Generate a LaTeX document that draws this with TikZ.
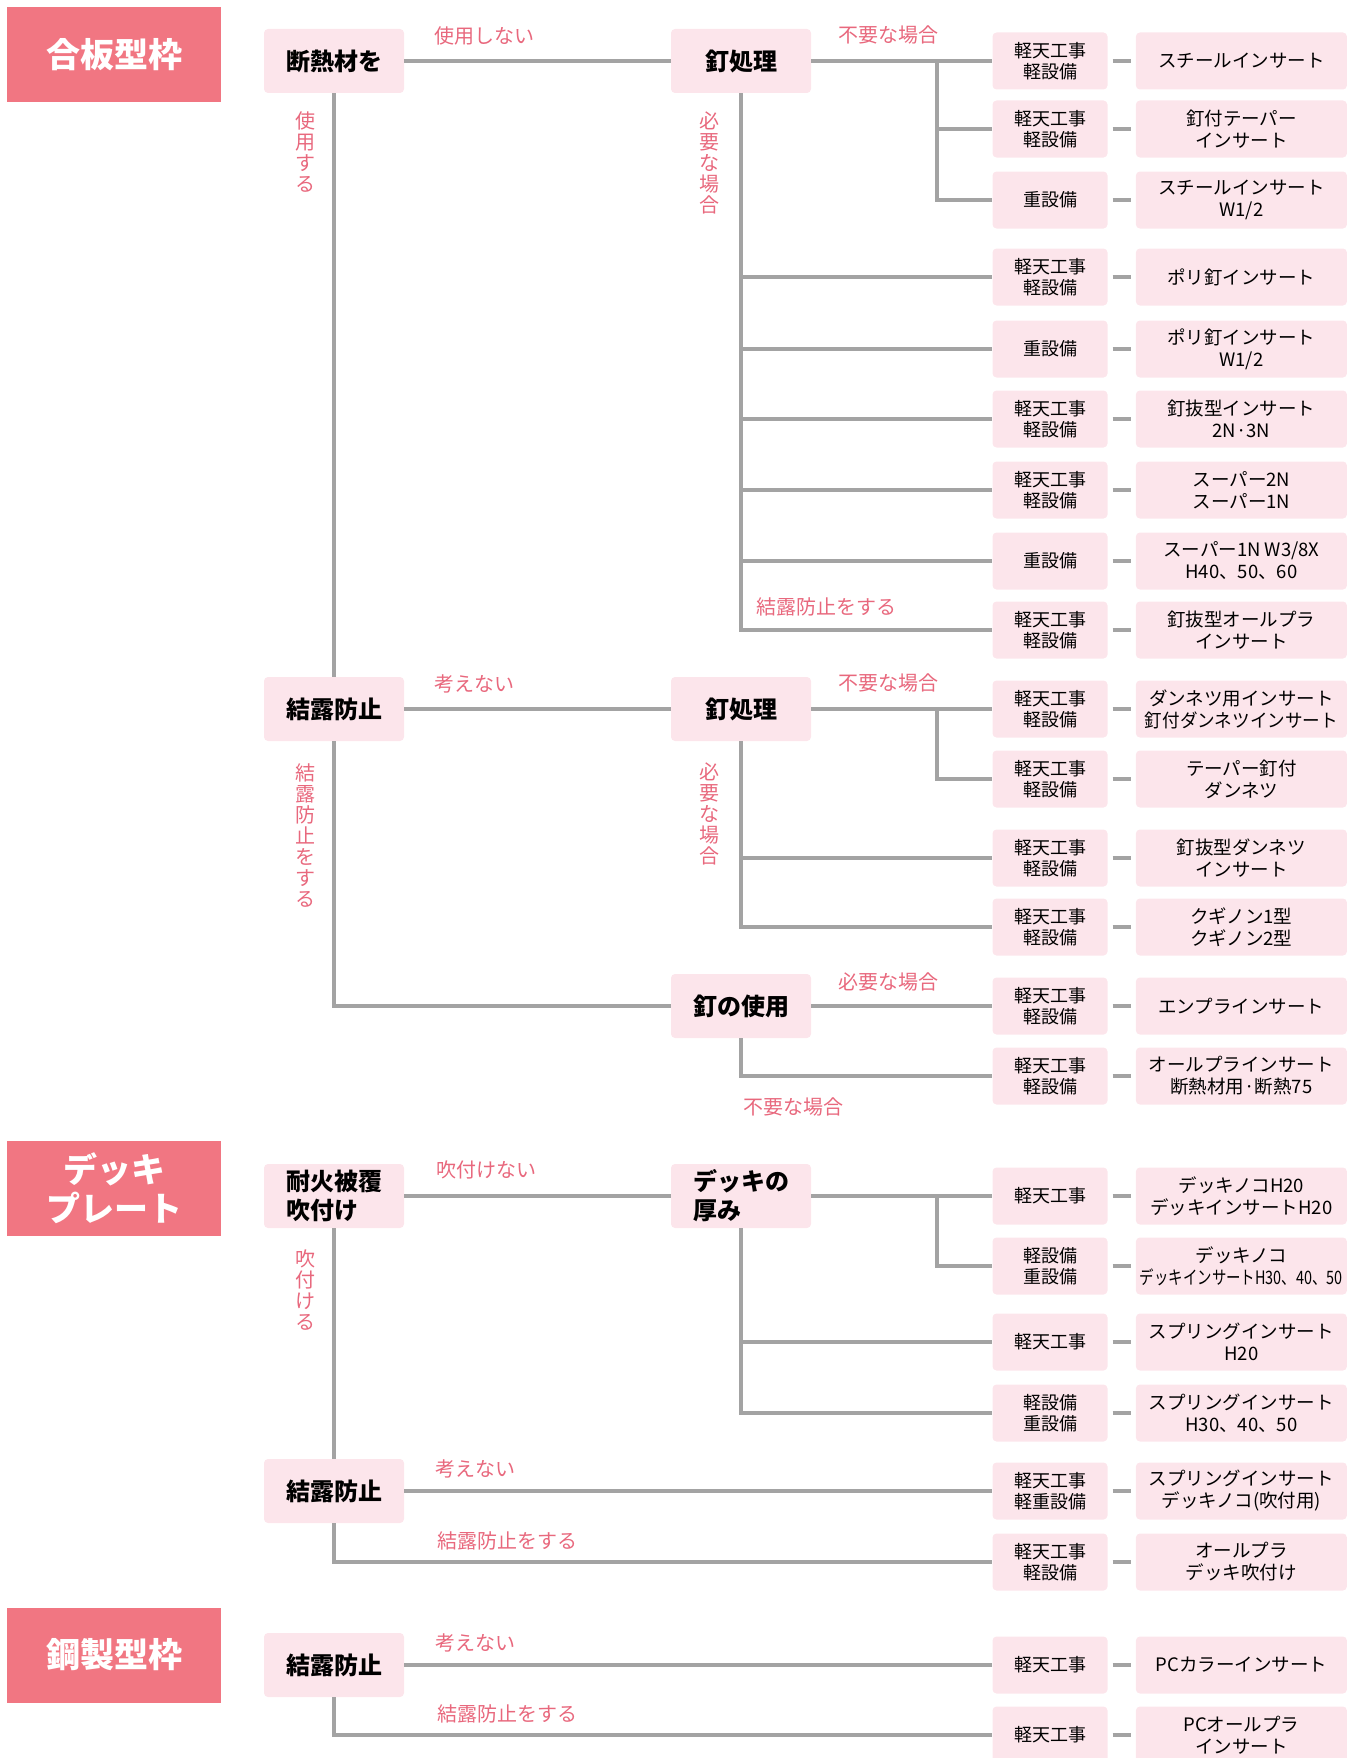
\documentclass[tikz,border=0pt]{standalone}
\usepackage{fontspec}
\setmainfont{Noto Sans CJK JP}
\usetikzlibrary{positioning}

\definecolor{titlepink}{RGB}{241,118,130}
\definecolor{boxpink}{RGB}{252,229,235}
\definecolor{labelpink}{RGB}{232,104,125}
\definecolor{linegray}{RGB}{163,163,163}

\begin{document}
\begin{tikzpicture}[
    x=1pt, y=-1pt,
    title/.style={fill=titlepink, text=white, align=center, inner sep=0pt,
                  minimum width=214pt, minimum height=95pt,
                  font=\bfseries\fontsize{34}{39}\selectfont},
    cond/.style={fill=boxpink, rounded corners=4pt, align=left, inner sep=0pt,
                 minimum width=140pt, minimum height=64pt,
                 font=\bfseries\fontsize{24}{29}\selectfont},
    work/.style={fill=boxpink, rounded corners=4pt, align=center, inner sep=0pt,
                 minimum width=115pt, minimum height=57pt,
                 font=\fontsize{18}{21.5}\selectfont},
    item/.style={work, minimum width=211pt, font=\fontsize{18.5}{22}\selectfont},
    lbl/.style={text=labelpink, inner sep=0pt, align=center,
                font=\fontsize{20}{21}\selectfont},
    link/.style={draw=linegray, line width=3.5pt},
    stub/.style={link, shorten <=5pt, shorten >=5pt},
  ]
  \useasboundingbox (0,0) rectangle (1350,1758);

  % section titles
  \node[title] (t1) at (114,55) {合板型枠};
  \node[title] (t2) at (114,1188) {デッキ\\プレート};
  \node[title] (t3) at (114,1655) {鋼製型枠};

  % conditions, first column
  \node[cond] (d1) at (334,61) {断熱材を};
  \node[cond] (d2) at (334,709) {結露防止};
  \node[cond] (d3) at (334,1196) {耐火被覆\\吹付け};
  \node[cond] (d4) at (334,1491) {結露防止};
  \node[cond] (d5) at (334,1665) {結露防止};
  % conditions, second column
  \node[cond] (n1) at (741,61) {釘処理};
  \node[cond] (n2) at (741,709) {釘処理};
  \node[cond] (n3) at (741,1006) {釘の使用};
  \node[cond] (n4) at (741,1196) {デッキの\\厚み};

  % works and inserts
  \node[work] (w1) at (1050,61) {軽天工事\\軽設備};
  \node[item, right=28pt of w1] (r1) {スチールインサート};
  \node[work] (w2) at (1050,129) {軽天工事\\軽設備};
  \node[item, right=28pt of w2] (r2) {釘付テーパー\\インサート};
  \node[work] (w3) at (1050,200) {重設備};
  \node[item, right=28pt of w3] (r3) {スチールインサート\\W1/2};
  \node[work] (w4) at (1050,277) {軽天工事\\軽設備};
  \node[item, right=28pt of w4] (r4) {ポリ釘インサート};
  \node[work] (w5) at (1050,349) {重設備};
  \node[item, right=28pt of w5] (r5) {ポリ釘インサート\\W1/2};
  \node[work] (w6) at (1050,419) {軽天工事\\軽設備};
  \node[item, right=28pt of w6] (r6) {釘抜型インサート\\2N·3N};
  \node[work] (w7) at (1050,490) {軽天工事\\軽設備};
  \node[item, right=28pt of w7] (r7) {スーパー2N\\スーパー1N};
  \node[work] (w8) at (1050,561) {重設備};
  \node[item, right=28pt of w8] (r8) {スーパー1N W3/8X\\H40、50、60};
  \node[work] (w9) at (1050,630) {軽天工事\\軽設備};
  \node[item, right=28pt of w9] (r9) {釘抜型オールプラ\\インサート};
  \node[work] (w10) at (1050,709) {軽天工事\\軽設備};
  \node[item, right=28pt of w10] (r10) {ダンネツ用インサート\\\scalebox{0.95}[1]{釘付ダンネツインサート}};
  \node[work] (w11) at (1050,779) {軽天工事\\軽設備};
  \node[item, right=28pt of w11] (r11) {テーパー釘付\\ダンネツ};
  \node[work] (w12) at (1050,858) {軽天工事\\軽設備};
  \node[item, right=28pt of w12] (r12) {釘抜型ダンネツ\\インサート};
  \node[work] (w13) at (1050,927) {軽天工事\\軽設備};
  \node[item, right=28pt of w13] (r13) {クギノン1型\\クギノン2型};
  \node[work] (w14) at (1050,1006) {軽天工事\\軽設備};
  \node[item, right=28pt of w14] (r14) {エンプラインサート};
  \node[work] (w15) at (1050,1076) {軽天工事\\軽設備};
  \node[item, right=28pt of w15] (r15) {オールプラインサート\\断熱材用·断熱75};
  \node[work] (w16) at (1050,1196) {軽天工事};
  \node[item, right=28pt of w16] (r16) {デッキノコH20\\デッキインサートH20};
  \node[work] (w17) at (1050,1266) {軽設備\\重設備};
  \node[item, right=28pt of w17] (r17) {デッキノコ\\\scalebox{0.78}[1]{デッキインサートH30、40、50}};
  \node[work] (w18) at (1050,1342) {軽天工事};
  \node[item, right=28pt of w18] (r18) {スプリングインサート\\H20};
  \node[work] (w19) at (1050,1413) {軽設備\\重設備};
  \node[item, right=28pt of w19] (r19) {スプリングインサート\\H30、40、50};
  \node[work] (w20) at (1050,1491) {軽天工事\\軽重設備};
  \node[item, right=28pt of w20] (r20) {スプリングインサート\\デッキノコ(吹付用)};
  \node[work] (w21) at (1050,1562) {軽天工事\\軽設備};
  \node[item, right=28pt of w21] (r21) {オールプラ\\デッキ吹付け};
  \node[work] (w22) at (1050,1665) {軽天工事};
  \node[item, right=28pt of w22] (r22) {PCカラーインサート};
  \node[work] (w23) at (1050,1735) {軽天工事};
  \node[item, right=28pt of w23] (r23) {PCオールプラ\\インサート};

  % branch points
  \coordinate (k1) at (937,61);
  \coordinate (k2) at (937,709);
  \coordinate (k3) at (937,1196);

  % plywood form
  \draw[link] (d1) -- (n1);
  \draw[link] (d1) -- (d2);
  \draw[link] (n1) -- (w1);
  \draw[link] (k1) |- (w2.west);
  \draw[link] (k1) |- (w3.west);
  \draw[link] (n1.south) |- (w9.west);
  \draw[link] (n1.south |- w4.west) -- (w4.west);
  \draw[link] (n1.south |- w5.west) -- (w5.west);
  \draw[link] (n1.south |- w6.west) -- (w6.west);
  \draw[link] (n1.south |- w7.west) -- (w7.west);
  \draw[link] (n1.south |- w8.west) -- (w8.west);
  \draw[link] (d2) -- (n2);
  \draw[link] (n2) -- (w10);
  \draw[link] (k2) |- (w11.west);
  \draw[link] (n2.south) |- (w13.west);
  \draw[link] (n2.south |- w12.west) -- (w12.west);
  \draw[link] (d2.south) |- (n3.west);
  \draw[link] (n3) -- (w14);
  \draw[link] (n3.south) |- (w15.west);
  % deck plate
  \draw[link] (d3) -- (n4);
  \draw[link] (d3) -- (d4);
  \draw[link] (n4) -- (w16);
  \draw[link] (k3) |- (w17.west);
  \draw[link] (n4.south) |- (w19.west);
  \draw[link] (n4.south |- w18.west) -- (w18.west);
  \draw[link] (d4) -- (w20);
  \draw[link] (d4.south) |- (w21.west);
  % steel form
  \draw[link] (d5) -- (w22);
  \draw[link] (d5.south) |- (w23.west);
  % work to insert
  \foreach \i in {1,...,23}
    \draw[stub] (w\i) -- (r\i);

  % branch labels
  \node[lbl] (l1) at (484,36) {使用しない};
  \node[lbl] (l2) at (305,152) {使\\用\\す\\る};
  \node[lbl] (l3) at (888,35) {不要な場合};
  \node[lbl] (l4) at (709,163) {必\\要\\な\\場\\合};
  \node[lbl] (l5) at (826,607) {結露防止をする};
  \node[lbl] (l6) at (474,684) {考えない};
  \node[lbl] (l7) at (305,836) {結\\露\\防\\止\\を\\す\\る};
  \node[lbl] (l8) at (888,683) {不要な場合};
  \node[lbl] (l9) at (709,814) {必\\要\\な\\場\\合};
  \node[lbl] (l10) at (888,982) {必要な場合};
  \node[lbl] (l11) at (793,1107) {不要な場合};
  \node[lbl] (l12) at (486,1170) {吹付けない};
  \node[lbl] (l13) at (305,1290) {吹\\付\\け\\る};
  \node[lbl] (l14) at (475,1469) {考えない};
  \node[lbl] (l15) at (507,1541) {結露防止をする};
  \node[lbl] (l16) at (475,1643) {考えない};
  \node[lbl] (l17) at (507,1714) {結露防止をする};
\end{tikzpicture}
\end{document}
